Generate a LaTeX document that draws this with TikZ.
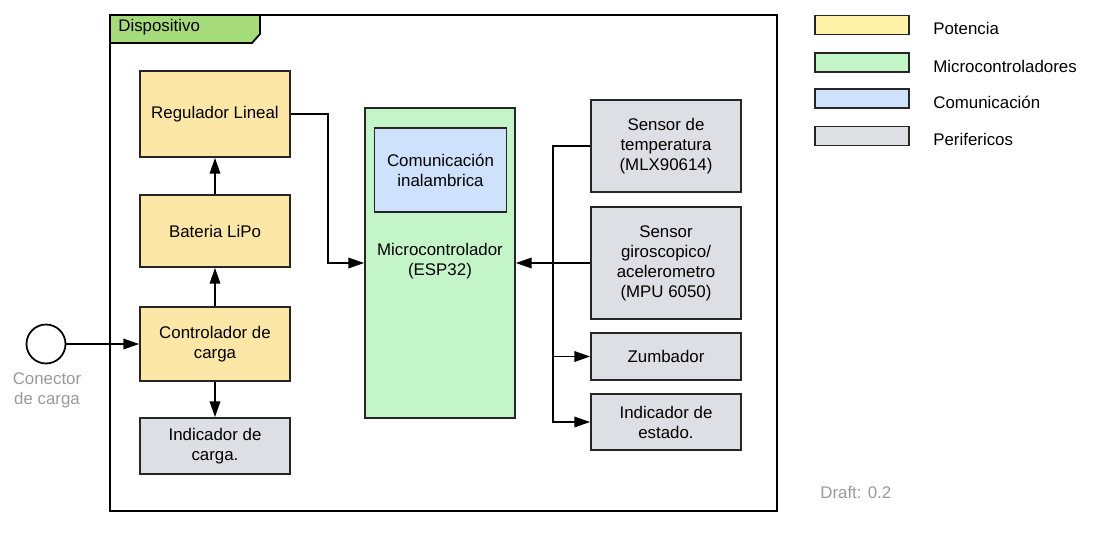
\documentclass[tikz,border=0pt]{standalone}
\usepackage{fontspec}
\setmainfont{Liberation Sans}
\usetikzlibrary{arrows.meta}
\definecolor{pyellow}{HTML}{FDE7A6}
\definecolor{lyellow}{HTML}{FFF2A8}
\definecolor{pgreen}{HTML}{C4F5C8}
\definecolor{pblue}{HTML}{CFE2FD}
\definecolor{pgray}{HTML}{DDDFE4}
\definecolor{tabgreen}{HTML}{A6DB7C}
\definecolor{txtgray}{HTML}{9A9A9A}
\begin{document}
\begin{tikzpicture}[x=0.02cm,y=-0.02cm,
  every node/.style={font=\fontsize{9.6}{11.4}\selectfont},
  blk/.style={draw=black!85,line width=1pt,inner sep=0pt,align=center,minimum width=3cm},
  pow/.style={blk,fill=pyellow},
  per/.style={blk,fill=pgray},
  arr/.style={line width=1pt,-{Triangle[length=9pt,width=6pt]}},
  leg/.style={draw=black!85,line width=1pt,minimum width=1.88cm,minimum height=0.38cm,inner sep=0pt},
  legt/.style={anchor=west,inner sep=0pt}]
\useasboundingbox (0,0) rectangle (1100,532);
% frame and tab
\draw[fill=tabgreen,line width=1pt] (110,15) -- (260,15) -- (260,34) -- (252,43) -- (110,43) -- cycle;
\draw[line width=1.2pt] (110,15) rectangle (777,511);
\node[anchor=west,inner sep=0pt] (tab) at (118,27) {Dispositivo};
% power column
\node[pow,minimum height=1.72cm] (reg) at (215,114) {Regulador Lineal};
\node[pow,minimum height=1.44cm] (bat) at (215,231) {Bateria LiPo};
\node[pow,minimum height=1.48cm] (ctl) at (215,344) {Controlador de\\carga};
\node[per,minimum height=1.12cm] (icar) at (215,446) {Indicador de\\carga.};
% connector
\node[draw,circle,line width=1pt,minimum size=0.78cm,inner sep=0pt] (con) at (46,344) {};
\node[text=txtgray,align=center,inner sep=0pt] (conl) at (47,390) {Conector\\de carga};
% micro
\node[blk,fill=pgreen,minimum height=6.2cm] (micro) at (440,263) {};
\node[blk,fill=pblue,minimum width=2.64cm,minimum height=1.68cm] (com) at (440.5,170) {Comunicación\\inalambrica};
\node[align=center,inner sep=0pt] (microl) at (440,261) {Microcontrolador\\(ESP32)};
% peripherals
\node[per,minimum height=1.84cm] (temp) at (666,146) {Sensor de\\temperatura\\(MLX90614)};
\node[per,minimum height=2.24cm] (giro) at (666,263) {Sensor\\giroscopico/\\acelerometro\\(MPU 6050)};
\node[per,minimum height=0.94cm] (zum) at (666,356.5) {Zumbador};
\node[per,minimum height=1.12cm] (est) at (666,422) {Indicador de\\estado.};
% connectors
\draw[arr] (con.east) -- (ctl.west);
\draw[arr] (ctl.north) -- (bat.south);
\draw[arr] (bat.north) -- (reg.south);
\draw[arr] (ctl.south) -- (icar.north);
\draw[arr] (reg.east) -- ++(37,0) |- (micro.west);
\draw[arr] (giro.west) -- (micro.east);
\coordinate (busb) at (553,422);
\draw[arr] (temp.west) -| (busb) -- (est.west);
\draw[arr] (busb |- zum.west) -- (zum.west);
% legend
\node[leg,fill=lyellow] (l1) at (862,25) {};
\node[leg,fill=pgreen] (l2) at (862,62.5) {};
\node[leg,fill=pblue] (l3) at (862,98.5) {};
\node[leg,fill=pgray] (l4) at (862,136) {};
\node[legt] (t1) at (933,28) {Potencia};
\node[legt] (t2) at (933,66) {Microcontroladores};
\node[legt] (t3) at (933,102) {Comunicación};
\node[legt] (t4) at (933,139) {Perifericos};
\node[legt,text=txtgray] (draft) at (820,492) {Draft: 0.2};
\end{tikzpicture}
\end{document}
